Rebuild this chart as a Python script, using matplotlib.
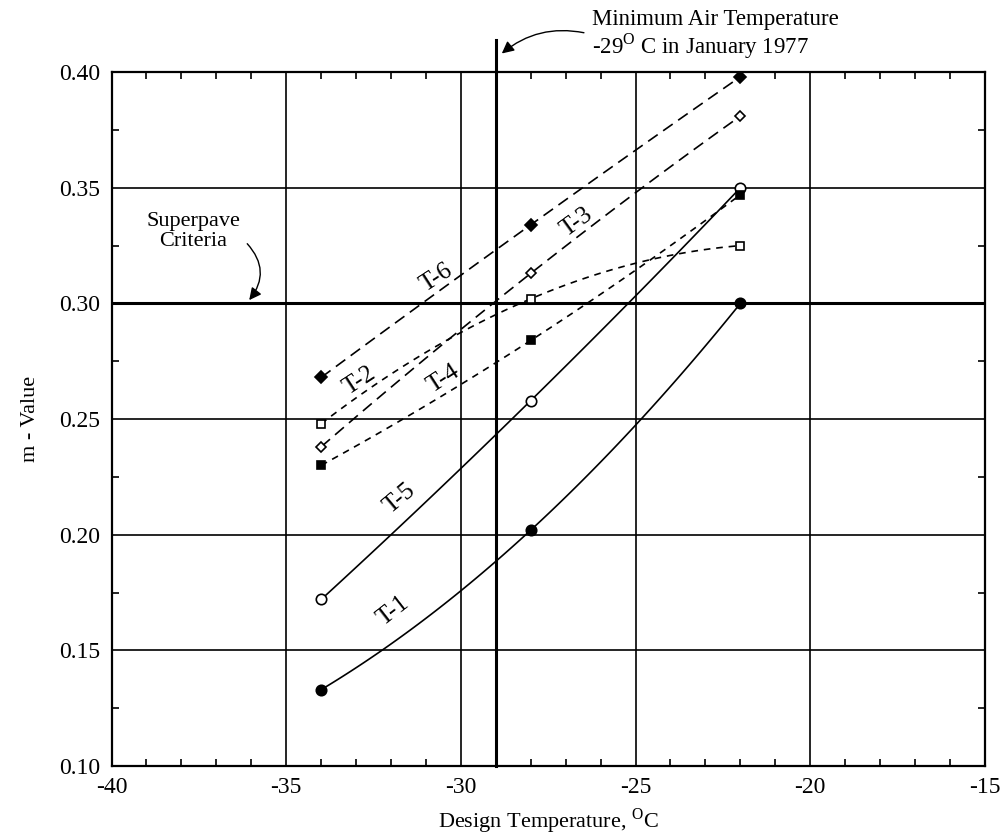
import numpy as np
import matplotlib.pyplot as plt
from matplotlib.ticker import MultipleLocator

plt.rcParams["font.family"] = ["Liberation Serif", "DejaVu Serif"]
plt.rcParams["mathtext.fontset"] = "custom"
plt.rcParams["mathtext.rm"] = "Liberation Serif"
plt.rcParams["axes.unicode_minus"] = False

# design temperatures (deg C)
temps = np.array([-34., -28., -22.])

# m-values per mix
t1 = [0.133, 0.202, 0.300]
t2 = [0.248, 0.302, 0.325]
t3 = [0.238, 0.313, 0.381]
t4 = [0.230, 0.284, 0.347]
t5 = [0.172, 0.258, 0.350]
t6 = [0.268, 0.334, 0.398]

criteria = 0.30
min_air_temp = -29.

fig = plt.figure(figsize=(10.05, 8.39), dpi=100)
ax = fig.add_axes([0.111, 0.087, 0.869, 0.827])

ax.set_xlim(-40, -15)
ax.set_ylim(0.10, 0.40)

xs = np.linspace(temps[0], temps[-1], 100)

def curve(vals, ls, marker, fc, ms):
    c = np.polyfit(temps, vals, 2)
    ax.plot(xs, np.polyval(c, xs), color="black", lw=1.2, ls=ls, zorder=3)
    ax.plot(temps, vals, ls="none", marker=marker, ms=ms, mfc=fc, mec="black",
            mew=1.2, zorder=4)

long_dash = (0, (7, 4))
short_dash = (0, (4, 3.5))
curve(t1, "-", "o", "black", 7.5)
curve(t5, "-", "o", "white", 7.5)
curve(t6, long_dash, "D", "black", 6)
curve(t3, long_dash, "D", "white", 5)
curve(t2, short_dash, "s", "white", 5.5)
curve(t4, short_dash, "s", "black", 5.5)

# grid
for gx in [-35, -30, -25, -20]:
    ax.axvline(gx, color="black", lw=1.2, zorder=1)
for gy in [0.15, 0.20, 0.25, 0.35]:
    ax.axhline(gy, color="black", lw=1.2, zorder=1)

ax.axhline(criteria, color="black", lw=2.2, zorder=2)
ax.plot([min_air_temp, min_air_temp], [0.10, 0.4138], color="black", lw=2.2,
        clip_on=False, zorder=2)

ax.xaxis.set_major_locator(MultipleLocator(5))
ax.xaxis.set_minor_locator(MultipleLocator(1))
ax.yaxis.set_major_locator(MultipleLocator(0.05))
ax.yaxis.set_minor_locator(MultipleLocator(0.025))
ax.yaxis.set_major_formatter(plt.FormatStrFormatter("%.2f"))
ax.tick_params(which="both", direction="in", top=True, right=True, labelsize=17)
ax.tick_params(which="major", length=0, pad=8)
ax.tick_params(which="minor", length=5, width=1.2)
for s in ax.spines.values():
    s.set_linewidth(1.6)

ax.set_xlabel(r"Design Temperature, $^{\mathrm{O}}$C", fontsize=16, labelpad=6)
ax.set_ylabel("m - Value", fontsize=16, labelpad=14)

# curve labels
labels = [("T-6", -30.69, 0.3110, 33),
          ("T-2", -32.89, 0.2664, 33),
          ("T-3", -26.69, 0.3350, 36),
          ("T-4", -30.51, 0.2673, 33),
          ("T-5", -31.74, 0.2155, 40),
          ("T-1", -31.94, 0.1673, 38)]
for txt, lx, ly, rot in labels:
    ax.text(lx, ly, txt, fontsize=18, rotation=rot, ha="center", va="center",
            zorder=5)

ax.text(-37.66, 0.3310, "Superpave\nCriteria", fontsize=16, ha="center",
        va="center", linespacing=1.1)
ax.annotate("", xy=(-36.11, 0.3005), xytext=(-36.17, 0.3267),
            arrowprops=dict(arrowstyle="-|>", color="black", lw=1.0,
                            mutation_scale=18,
                            connectionstyle="arc3,rad=-0.45"))

ax.text(-26.26, 0.4160, "Minimum Air Temperature\n-29$^{\\mathrm{O}}$ C in January 1977",
        fontsize=16.5, ha="left", va="center", linespacing=1.05, clip_on=False)
ax.annotate("", xy=(-28.89, 0.4073), xytext=(-26.40, 0.4168),
            arrowprops=dict(arrowstyle="-|>", color="black", lw=1.0,
                            mutation_scale=18,
                            connectionstyle="arc3,rad=0.25"),
            annotation_clip=False)

fig.savefig("out.png", dpi=100)
